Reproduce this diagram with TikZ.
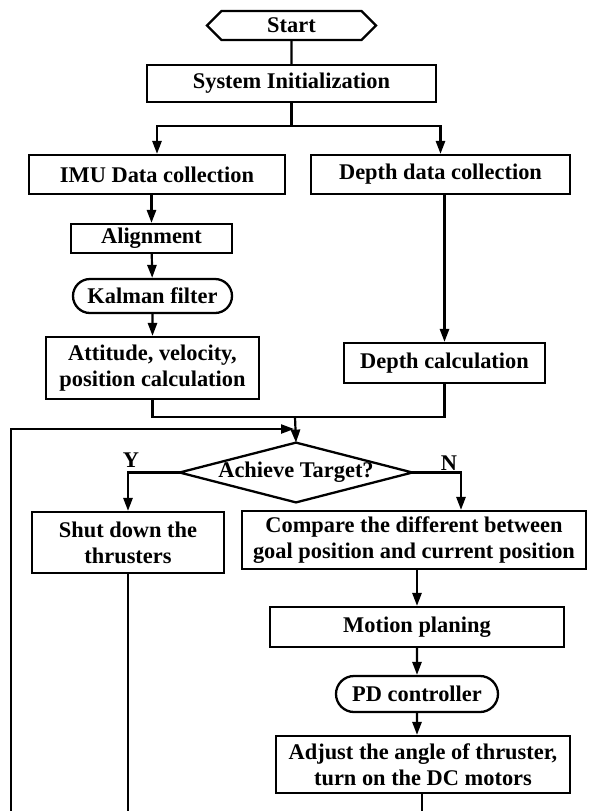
\documentclass[tikz,border=0pt]{standalone}
\usepackage{fontspec}
\setmainfont{Liberation Serif}
\usetikzlibrary{shapes.symbols,shapes.misc,arrows.meta}

\begin{document}
\begin{tikzpicture}[x=0.5pt,y=-0.5pt,
		font=\fontsize{11.2}{13}\selectfont\bfseries,
		box/.style={draw, line width=1.15pt, inner sep=0pt, align=center},
		pill/.style={box, rounded rectangle},
		wire/.style={line width=1.1pt},
		arr/.style={wire, -{Triangle[length=6.5pt,width=4.6pt]}},
		back/.style={line width=0.85pt}]
		\useasboundingbox (0,0) rectangle (589,811);
		% upper part: start, init and the two data branches
		\node[box, signal, signal to=west and east, minimum width=84.5pt, minimum height=14.5pt] (start) at (291.5,25.5) {Start};
		\node[box, minimum width=144.5pt, minimum height=18.5pt] (init) at (291.5,83.5) {System Initialization};
		\node[box, minimum width=128pt, minimum height=19.5pt] (imu) at (157,174.5) {IMU Data collection};
		\node[box, minimum width=129.5pt, minimum height=19.5pt] (depth) at (440.5,174.5) {Depth data collection};
		\node[box, minimum width=80.5pt, minimum height=14.5pt] (align) at (151.5,238.5) {Alignment};
		\node[pill, minimum width=79.5pt, minimum height=17pt] (kalman) at (152.5,296) {Kalman filter};
		\node[box, minimum width=106.5pt, minimum height=31pt] (att) at (152.5,368) {Attitude, velocity,\\position calculation};
		\node[box, minimum width=100.5pt, minimum height=20pt] (depthcalc) at (444.5,363) {Depth calculation};
		% decision
		\node[inner sep=0pt, minimum width=116pt, minimum height=29.5pt] (target) at (296,472.5) {Achieve Target?};
		\draw[line width=1.15pt] (target.west) -- (target.north) -- (target.east) -- (target.south) -- cycle;
		\node (yes) at (131,460) {Y};
		\node (no) at (449,463) {N};
		% lower part
		\node[box, minimum width=96pt, minimum height=30.5pt] (shut) at (128,542.5) {Shut down the\\thrusters};
		\node[box, minimum width=172pt, minimum height=29pt] (compare) at (414,540) {Compare the different between\\goal position and current position};
		\node[box, minimum width=147pt, minimum height=20pt] (motion) at (417,627) {Motion planing};
		\node[pill, minimum width=81pt, minimum height=18pt] (pd) at (417,694) {PD controller};
		\node[box, minimum width=147pt, minimum height=28.5pt] (adjust) at (423,764.5) {Adjust the angle of thruster,\\turn on the DC motors};

		\coordinate (split) at (291.5,126);
		\coordinate (merge) at (295,417);
		\coordinate (loopin) at (294,429);
		\coordinate (loopout) at (11,811);
		\coordinate (nturn) at (461,472.5);
		\coordinate (shutout) at (128,811);
		\coordinate (adjout) at (422,811);

		\draw[wire] (start) -- (init);
		\draw[arr] (init) -- (split) -| (imu);
		\draw[arr] (split) -| (depth);
		\draw[arr] (imu.south -| align.north) -- (align);
		\draw[arr] (align) -- (kalman);
		\draw[arr] (kalman) -- (att);
		\draw[arr] (depth.south -| depthcalc.north) -- (depthcalc);
		\draw[wire] (att.south) |- (merge) -| (depthcalc.south);
		\draw[arr] (merge) -- (target.north);
		\draw[back, -{Triangle[length=6.5pt,width=4.6pt]}] (loopout) |- (loopin);
		\draw[arr] (target.west) -| (shut.north);
		\draw[arr] (target.east) -- (nturn) -- (nturn |- compare.north);
		\draw[arr] (compare.south -| motion.north) -- (motion);
		\draw[arr] (motion) -- (pd);
		\draw[arr] (pd) -- (pd |- adjust.north);
		\draw[back] (shut) -- (shutout);
		\draw[back] (adjust.south -| adjout) -- (adjout);
	\end{tikzpicture}
\end{document}
